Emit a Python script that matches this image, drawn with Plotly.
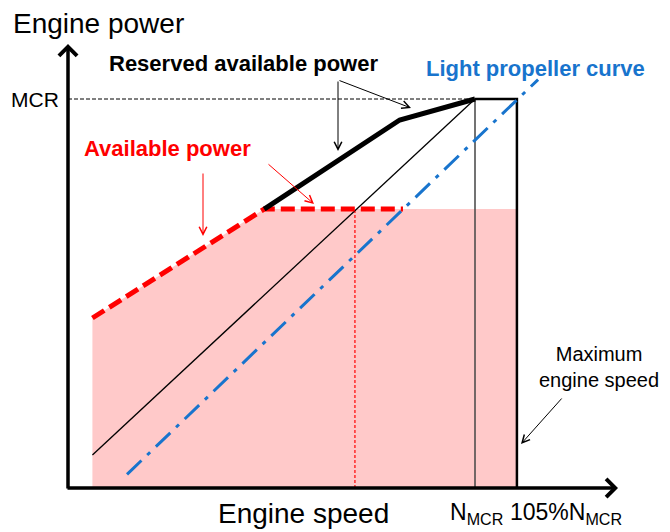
import plotly.graph_objects as go

# ---- schematic data (speed in % of N_MCR-ish units, power in % of MCR) ----
reserved_speed = [48.2, 81.5, 100]
reserved_power = [71.7, 94.6, 100]

available_speed = [6.0, 48.2, 82.3]
available_power = [43.7, 71.7, 71.7]

fill_speed = [6.0, 6.0, 48.2, 110.3, 110.3]
fill_power = [0, 43.7, 71.7, 71.7, 0]

prop_speed = [6.0, 100]
prop_power = [8.5, 100]

light_speed = [14.5, 115.5]
light_power = [3.5, 105]

n_mcr = 100
n_max = 110.3
mcr = 100
cross_speed = 70.5

# screen-pixel helpers (used only for placing annotations)
KX = 4.07
KY = 3.89
X0, Y0 = 68, 488
W, H = 670, 532
OFF = 8  # page body margin

def sx(px):
    return (px - X0) / KX

def py(pxy):
    return (Y0 - pxy) / KY

FONT = "Liberation Sans, Arial, sans-serif"

fig = go.Figure()

fig.add_trace(go.Scatter(x=fill_speed, y=fill_power, fill="toself", mode="none",
                         fillcolor="#FFC9C9", hoverinfo="skip"))
fig.add_trace(go.Scatter(x=[0, n_mcr], y=[mcr, mcr], mode="lines",
                         line=dict(color="black", width=1, dash="4px,2px")))
fig.add_trace(go.Scatter(x=[n_mcr, n_mcr], y=[0, mcr], mode="lines",
                         line=dict(color="#444444", width=1.5)))
fig.add_trace(go.Scatter(x=[n_mcr, n_max, n_max], y=[mcr, mcr, 0], mode="lines",
                         line=dict(color="black", width=2.5)))
fig.add_trace(go.Scatter(x=[cross_speed, cross_speed], y=[0, available_power[-1]], mode="lines",
                         line=dict(color="#FF0000", width=1.2, dash="3px,2px")))
fig.add_trace(go.Scatter(x=prop_speed, y=prop_power, mode="lines",
                         line=dict(color="black", width=1.3)))
fig.add_trace(go.Scatter(x=light_speed, y=light_power, mode="lines",
                         line=dict(color="#1874CD", width=3, dash="20px,8px,4px,8px")))
fig.add_trace(go.Scatter(x=available_speed, y=available_power, mode="lines",
                         line=dict(color="#FF0000", width=5, dash="14px,6px")))
fig.add_trace(go.Scatter(x=reserved_speed, y=reserved_power, mode="lines",
                         line=dict(color="black", width=5)))

ann = []
def arrow(x0, y0, x1, y1, color="black", width=1, head=5, size=1.5):
    ann.append(dict(x=x1, y=y1, ax=x0, ay=y0, xref="x", yref="y", axref="x", ayref="y",
                    text="", showarrow=True, arrowhead=head, arrowwidth=width,
                    arrowsize=size, arrowcolor=color))

def label(x, y, text, size, color="black", bold=False, xanchor="center"):
    if bold:
        text = "<b>" + text + "</b>"
    ann.append(dict(x=x, y=y, xref="x", yref="y", text=text, showarrow=False,
                    xanchor=xanchor, yanchor="middle",
                    font=dict(family=FONT, size=size, color=color)))

# axes
arrow(sx(66), 0, sx(618), 0, width=3.5, head=4, size=1)
arrow(0, py(490), 0, py(44), width=3.5, head=4, size=1)

# annotation arrows
arrow(sx(338), py(80), sx(338), py(151))
arrow(sx(338), py(80), sx(411), py(108))
arrow(sx(203), py(172), sx(203), py(236), color="#FF0000")
arrow(sx(267), py(163), sx(314), py(204), color="#FF0000")
arrow(sx(563), py(397), sx(521), py(444))

label(sx(11), py(23), "Engine power", 28, xanchor="left")
label(sx(61), py(99), "MCR", 21, xanchor="right")
label(sx(243), py(63), "Reserved available power", 22, bold=True)
label(sx(535), py(68), "Light propeller curve", 22, color="#1874CD", bold=True)
label(sx(167), py(148), "Available power", 22, color="#FF0000", bold=True)
label(sx(599), py(367), "Maximum<br>engine speed", 20)
label(sx(303), py(513), "Engine speed", 28)
label(sx(476), py(513), "N<sub>MCR</sub>", 23)
label(sx(566), py(513), "105%N<sub>MCR</sub>", 23)

fig.update_layout(
    width=W, height=H,
    margin=dict(l=0, r=0, t=0, b=0),
    paper_bgcolor="white", plot_bgcolor="white",
    showlegend=False,
    xaxis=dict(range=[sx(OFF), sx(W + OFF)], visible=False, fixedrange=True),
    yaxis=dict(range=[py(H + OFF), py(OFF)], visible=False, fixedrange=True),
    annotations=ann,
)

fig.write_html("out.html")
